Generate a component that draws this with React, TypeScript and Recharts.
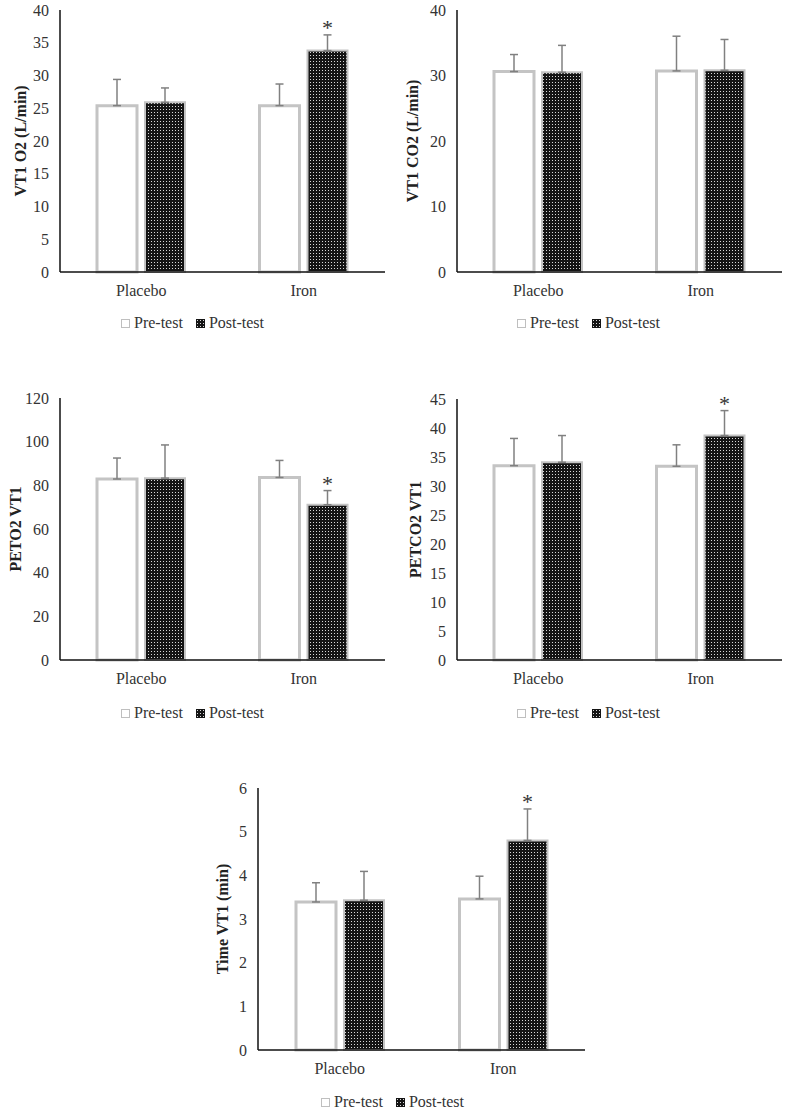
import { BarChart, Bar, XAxis, YAxis, ErrorBar, Legend, LabelList } from "recharts";

const groups = ["Placebo", "Iron"];

// VT1 O2 (L/min)
const vo2Pre = [25.4, 25.4];
const vo2PreSd = [4.0, 3.3];
const vo2Post = [25.9, 33.8];
const vo2PostSd = [2.2, 2.4];
const vo2Sig = [false, true];
const vo2Ticks = [0, 5, 10, 15, 20, 25, 30, 35, 40];

// VT1 CO2 (L/min)
const vco2Pre = [30.6, 30.7];
const vco2PreSd = [2.6, 5.3];
const vco2Post = [30.5, 30.8];
const vco2PostSd = [4.1, 4.7];
const vco2Sig = [false, false];
const vco2Ticks = [0, 10, 20, 30, 40];

// PETO2 VT1
const peto2Pre = [82.9, 83.6];
const peto2PreSd = [9.6, 7.8];
const peto2Post = [83.3, 71.1];
const peto2PostSd = [15.2, 6.5];
const peto2Sig = [false, true];
const peto2Ticks = [0, 20, 40, 60, 80, 100, 120];

// PETCO2 VT1
const petco2Pre = [33.5, 33.4];
const petco2PreSd = [4.7, 3.7];
const petco2Post = [34.1, 38.7];
const petco2PostSd = [4.6, 4.3];
const petco2Sig = [false, true];
const petco2Ticks = [0, 5, 10, 15, 20, 25, 30, 35, 40, 45];

// Time VT1 (min)
const timePre = [3.39, 3.46];
const timePreSd = [0.44, 0.52];
const timePost = [3.43, 4.8];
const timePostSd = [0.66, 0.72];
const timeSig = [false, true];
const timeTicks = [0, 1, 2, 3, 4, 5, 6];

const FONT = '"Liberation Serif", "Times New Roman", serif';

function buildRows(pre: number[], preSd: number[], post: number[], postSd: number[], sig: boolean[]) {
  return groups.map((g, i) => ({
    group: g,
    pre: pre[i],
    post: post[i],
    preErr: [0, preSd[i]],
    postErr: [0, postSd[i]],
    postSd: postSd[i],
    star: sig[i],
  }));
}

function LegendBox() {
  return (
    <div
      style={{
        height: 20,
        display: "flex",
        justifyContent: "center",
        alignItems: "center",
        fontFamily: FONT,
        fontSize: 16,
        color: "#333",
      }}
    >
      <span style={{ width: 7, height: 7, border: "1px solid #bfbfbf", background: "#fff", marginRight: 4 }} />
      <span style={{ marginRight: 13 }}>Pre-test</span>
      <svg width={9} height={9} style={{ marginRight: 4 }}>
        <rect width={9} height={9} fill="url(#postDots)" />
      </svg>
      <span>Post-test</span>
    </div>
  );
}

type PanelProps = {
  left: number;
  top: number;
  width: number;
  height: number;
  margin: { top: number; right: number; left: number; bottom: number };
  yWidth: number;
  xHeight: number;
  labelX: number;
  title: string;
  ticks: number[];
  rows: ReturnType<typeof buildRows>;
};

function Panel({ left, top, width, height, margin, yWidth, xHeight, labelX, title, ticks, rows }: PanelProps) {
  const starLabel = (props: any) => {
    const vb = props.viewBox || props;
    const row = rows[props.index];
    if (!row || !row.star || !vb) return null;
    const perUnit = vb.height / row.post;
    const errTop = vb.y - row.postSd * perUnit;
    return (
      <text x={vb.x + vb.width / 2} y={errTop} textAnchor="middle" fontFamily={FONT} fontSize={22} fill="#333">
        *
      </text>
    );
  };

  const yTitle = (props: any) => {
    const vb = props.viewBox;
    const cy = vb.y + vb.height / 2;
    return (
      <text
        x={labelX}
        y={cy}
        transform={`rotate(-90, ${labelX}, ${cy})`}
        textAnchor="middle"
        dominantBaseline="central"
        fontFamily={FONT}
        fontSize={16}
        fontWeight="bold"
        fill="#222"
      >
        {title}
      </text>
    );
  };

  return (
    <div style={{ position: "absolute", left, top }}>
      <BarChart width={width} height={height} data={rows} margin={margin} barSize={40} barGap={8}>
        <XAxis
          dataKey="group"
          tickLine={false}
          tickSize={0}
          tickMargin={13}
          height={xHeight}
          axisLine={{ stroke: "#111", strokeWidth: 1.5 }}
          tick={{ fontFamily: FONT, fontSize: 16, fill: "#333" }}
        />
        <YAxis
          width={yWidth}
          domain={[ticks[0], ticks[ticks.length - 1]]}
          ticks={ticks}
          interval={0}
          tickLine={false}
          tickSize={0}
          tickMargin={11}
          axisLine={{ stroke: "#111", strokeWidth: 1.5 }}
          tick={{ fontFamily: FONT, fontSize: 16, fill: "#333" }}
          label={{ content: yTitle }}
        />
        <Legend verticalAlign="bottom" height={20} content={() => <LegendBox />} />
        <Bar dataKey="pre" fill="#fff" stroke="#c4c4c4" strokeWidth={3} isAnimationActive={false}>
          <ErrorBar dataKey="preErr" width={4} stroke="#808080" strokeWidth={1.5} />
        </Bar>
        <Bar dataKey="post" fill="url(#postDots)" stroke="#c4c4c4" strokeWidth={2} isAnimationActive={false}>
          <ErrorBar dataKey="postErr" width={4} stroke="#808080" strokeWidth={1.5} />
          <LabelList dataKey="post" content={starLabel} />
        </Bar>
      </BarChart>
    </div>
  );
}

export default function App() {
  const vo2Rows = buildRows(vo2Pre, vo2PreSd, vo2Post, vo2PostSd, vo2Sig);
  const vco2Rows = buildRows(vco2Pre, vco2PreSd, vco2Post, vco2PostSd, vco2Sig);
  const peto2Rows = buildRows(peto2Pre, peto2PreSd, peto2Post, peto2PostSd, peto2Sig);
  const petco2Rows = buildRows(petco2Pre, petco2PreSd, petco2Post, petco2PostSd, petco2Sig);
  const timeRows = buildRows(timePre, timePreSd, timePost, timePostSd, timeSig);

  return (
    <div style={{ position: "absolute", left: 0, top: 0, width: 790, height: 1112, background: "#fff", overflow: "hidden" }}>
      {/* shared dotted fill for post-test bars */}
      <svg width={0} height={0} style={{ position: "absolute" }}>
        <defs>
          <pattern id="postDots" width={3} height={3} patternUnits="userSpaceOnUse">
            <rect width={3} height={3} fill="#141414" />
            <rect x={1} y={1} width={1} height={1} fill="#d8d8d8" />
          </pattern>
        </defs>
      </svg>

      <Panel left={0} top={0} width={390} height={340} margin={{ top: 10, right: 5, left: 0, bottom: 7 }}
        yWidth={60} xHeight={41} labelX={20} title="VT1 O2 (L/min)" ticks={vo2Ticks} rows={vo2Rows} />
      <Panel left={395} top={0} width={392} height={340} margin={{ top: 10, right: 5, left: 0, bottom: 7 }}
        yWidth={62} xHeight={41} labelX={17} title="VT1 CO2 (L/min)" ticks={vco2Ticks} rows={vco2Rows} />
      <Panel left={0} top={380} width={390} height={350} margin={{ top: 18, right: 5, left: 0, bottom: 7 }}
        yWidth={60} xHeight={43} labelX={15} title="PETO2 VT1" ticks={peto2Ticks} rows={peto2Rows} />
      <Panel left={395} top={380} width={392} height={350} margin={{ top: 19, right: 5, left: 0, bottom: 7 }}
        yWidth={62} xHeight={43} labelX={20} title="PETCO2 VT1" ticks={petco2Ticks} rows={petco2Rows} />
      <Panel left={200} top={770} width={390} height={342} margin={{ top: 18, right: 5, left: 0, bottom: 0 }}
        yWidth={58} xHeight={42} labelX={22} title="Time VT1 (min)" ticks={timeTicks} rows={timeRows} />
    </div>
  );
}
